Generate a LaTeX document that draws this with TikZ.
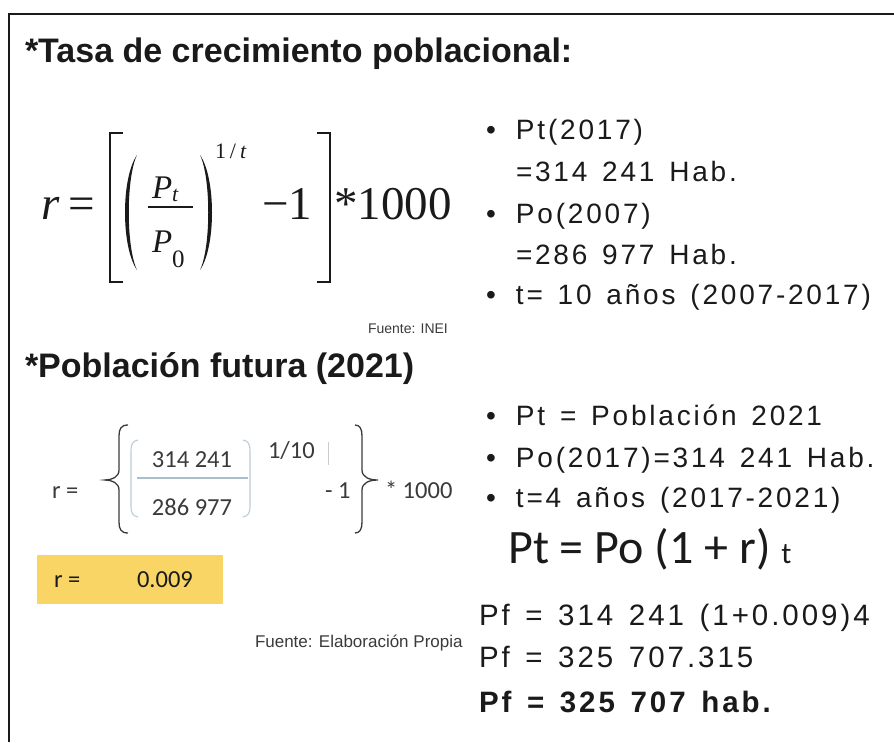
\documentclass[tikz,border=0pt]{standalone}
\usepackage{fontspec}
\setmainfont{Liberation Sans}
\newfontfamily\slidefont[LetterSpace=10,WordSpace=1.4]{Liberation Sans}
\newfontfamily\calfont{Carlito}
\newfontfamily\serifrm{Liberation Serif}
\newcommand\fsz[1]{\fontsize{#1}{#1}\selectfont}
\newcommand\itm[1]{\makebox[30pt][l]{\textbullet}#1}
\definecolor{ink}{HTML}{1A1A1A}
\definecolor{xlgray}{HTML}{3A3A3A}
\definecolor{gold}{HTML}{F8D565}
\definecolor{fracblue}{HTML}{A9BFCB}
\tikzset{
  txt/.style={anchor=base west,inner sep=0pt,outer sep=0pt,text=ink},
  head/.style={txt,font=\fsz{34}\bfseries},
  item/.style={txt,font={\slidefont\fsz{28}}},
  calc/.style={txt,font={\slidefont\fsz{29.5}}},
  tms/.style={txt,font={\serifrm\fsz{47}}},
  cal/.style={txt,font={\calfont\fsz{24.5}},text=xlgray},
  src/.style={txt,text=xlgray},
  brk/.style={draw=ink,line width=2.4pt},
  crl/.style={draw=xlgray,line width=1.3pt},
  lpar/.style={draw=fracblue!80,line width=1.1pt}
}

\begin{document}
\begin{tikzpicture}[x=1pt,y=-1pt]
  \useasboundingbox (0,0) rectangle (894,742);
  \draw[ink,line width=2pt] (9,742) -- (9,14) -- (894,14);

  % first block
  \node[head] (tasa) at (25,62) {*Tasa de crecimiento poblacional:};
  \node[tms] (rsym) at (41,219) {\itshape r};
  \node[tms] (eqsym) at (68,219) {=};
  \draw[brk] (123,133) -- (110,133) -- (110,282) -- (123,282);
  \fill[ink] (137,155) .. controls (121,178) and (121,247) .. (137,270)
    .. controls (126,247) and (126,178) .. (137,155) -- cycle;
  \node[txt,font={\serifrm\fsz{33}\itshape}] (pt) at (152,198) {P\raisebox{-3pt}{\fsz{22}t}};
  \draw[ink,line width=1.6pt] (148,207) -- (193,207);
  \node[txt,font={\serifrm\fsz{33}\itshape}] (p0) at (152,252) {P\raisebox{-15pt}{\fsz{25}\upshape 0}};
  \fill[ink] (200,155) .. controls (216,178) and (216,247) .. (200,270)
    .. controls (211,247) and (211,178) .. (200,155) -- cycle;
  \node[txt,font={\serifrm\fsz{22}}] (expo) at (215,158) {1\kern4pt/\kern4pt\textit{t}};
  \node[tms] (minus) at (262,219) {−1};
  \draw[brk] (317,133) -- (330,133) -- (330,282) -- (317,282);
  \node[tms] (times) at (334,219) {*1000};
  \node[src,font=\fsz{14}] (inei) at (368,333) {Fuente: INEI};

  \node[item] (a1) at (486,139) {\itm{Pt(2017)}};
  \node[item] (a2) at (516,181) {=314 241 Hab.};
  \node[item] (a3) at (486,223) {\itm{Po(2007)}};
  \node[item] (a4) at (516,264) {=286 977 Hab.};
  \node[item] (a5) at (486,304) {\itm{t= 10 años (2007-2017)}};

  % second block
  \node[head] (futura) at (25,377) {*Población futura (2021)};
  \node[cal] (r2) at (52,498) {r =};
  \draw[crl] (128,425) .. controls (121,425) and (119,429) .. (119,436) -- (119,470)
    .. controls (119,477) and (112,480) .. (105,480) .. controls (112,480) and (119,483) .. (119,490)
    -- (119,522) .. controls (119,529) and (121,533) .. (128,533);
  \draw[lpar] (138,440) .. controls (133,441) and (131,444) .. (131,450) -- (131,507)
    .. controls (131,513) and (133,516) .. (138,517);
  \node[cal,anchor=base] (num) at (192,467) {314 241};
  \draw[fracblue,line width=1.3pt] (137,478) -- (248,478);
  \node[cal,anchor=base] (den) at (192,515) {286 977};
  \draw[lpar] (243,440) .. controls (248,441) and (250,444) .. (250,450) -- (250,507)
    .. controls (250,513) and (248,516) .. (243,517);
  \node[cal] (pow) at (268,458) {1/10};
  \draw[black!20,line width=0.8pt] (328,442) -- (328,465);
  \node[cal] (less) at (325,498) {- 1};
  \draw[crl] (355,425) .. controls (360,425) and (362,429) .. (362,436) -- (362,470)
    .. controls (362,477) and (369,480) .. (378,480) .. controls (369,480) and (362,483) .. (362,490)
    -- (362,522) .. controls (362,529) and (360,533) .. (355,533);
  \node[cal] (k1000) at (385,498) {* 1000};

  \node[fill=gold,minimum width=186pt,minimum height=49pt,inner sep=0pt,anchor=north west] (rbox) at (37,555) {};
  \node[cal,text=ink] (rlbl) at (54,587) {r =};
  \node[cal,text=ink] (rval) at (137,587) {0.009};
  \node[src,font=\fsz{17}] (propia) at (255,647) {Fuente: Elaboración Propia};

  \node[item] (b1) at (486,425) {\itm{Pt = Población 2021}};
  \node[item] (b2) at (486,467) {\itm{Po(2017)=314 241 Hab.}};
  \node[item] (b3) at (486,507) {\itm{t=4 años (2017-2021)}};
  \node[txt,font={\calfont\fsz{48}}] (model) at (508,563) {Pt = Po (1 + r) {\fsz{30}t}};
  \node[calc] (c1) at (479,625) {Pf = 314 241 (1+0.009)4};
  \node[calc] (c2) at (479,667) {Pf = 325 707.315};
  \node[calc,font={\slidefont\fsz{29.5}\bfseries}] (c3) at (479,712) {Pf = 325 707 hab.};
\end{tikzpicture}
\end{document}
